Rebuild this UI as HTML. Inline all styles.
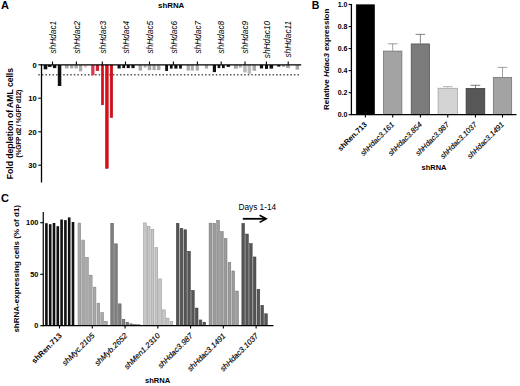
<!DOCTYPE html>
<html><head><meta charset="utf-8"><style>
html,body{margin:0;padding:0;background:#fff;width:520px;height:386px;overflow:hidden}
svg{display:block;font-family:"Liberation Sans",sans-serif}
</style></head><body>
<svg width="520" height="386" viewBox="0 0 520 386" font-family="Liberation Sans, sans-serif"><text x="1" y="9" font-size="11" font-weight="bold" font-style="normal" text-anchor="start" fill="#000">A</text>
<text x="158" y="7.6" font-size="7.9" font-weight="bold" font-style="normal" text-anchor="start" fill="#000">shRNA</text>
<text x="0" y="0" font-size="8.3" font-weight="normal" font-style="italic" text-anchor="end" fill="#000" transform="translate(55.70,20.8) rotate(-90)">shHdac1</text>
<text x="0" y="0" font-size="8.3" font-weight="normal" font-style="italic" text-anchor="end" fill="#000" transform="translate(79.60,20.8) rotate(-90)">shHdac2</text>
<text x="0" y="0" font-size="8.3" font-weight="normal" font-style="italic" text-anchor="end" fill="#000" transform="translate(105.50,20.8) rotate(-90)">shHdac3</text>
<text x="0" y="0" font-size="8.3" font-weight="normal" font-style="italic" text-anchor="end" fill="#000" transform="translate(128.70,20.8) rotate(-90)">shHdac4</text>
<text x="0" y="0" font-size="8.3" font-weight="normal" font-style="italic" text-anchor="end" fill="#000" transform="translate(152.70,20.8) rotate(-90)">shHdac5</text>
<text x="0" y="0" font-size="8.3" font-weight="normal" font-style="italic" text-anchor="end" fill="#000" transform="translate(176.60,20.8) rotate(-90)">shHdac6</text>
<text x="0" y="0" font-size="8.3" font-weight="normal" font-style="italic" text-anchor="end" fill="#000" transform="translate(200.60,20.8) rotate(-90)">shHdac7</text>
<text x="0" y="0" font-size="8.3" font-weight="normal" font-style="italic" text-anchor="end" fill="#000" transform="translate(224.40,20.8) rotate(-90)">shHdac8</text>
<text x="0" y="0" font-size="8.3" font-weight="normal" font-style="italic" text-anchor="end" fill="#000" transform="translate(248.20,20.8) rotate(-90)">shHdac9</text>
<text x="0" y="0" font-size="8.3" font-weight="normal" font-style="italic" text-anchor="end" fill="#000" transform="translate(269.60,20.8) rotate(-90)">shHdac10</text>
<text x="0" y="0" font-size="8.3" font-weight="normal" font-style="italic" text-anchor="end" fill="#000" transform="translate(291.40,20.8) rotate(-90)">shHdac11</text>
<line x1="38.3" y1="74.8" x2="299" y2="74.8" stroke="#555" stroke-width="1.4" stroke-dasharray="1.5 2.05"/>
<rect x="43.70" y="65.00" width="3.60" height="4.30" fill="#111"/>
<rect x="47.90" y="65.00" width="3.70" height="1.90" fill="#111"/>
<rect x="52.90" y="65.00" width="3.40" height="3.10" fill="#111"/>
<rect x="57.80" y="65.00" width="3.50" height="21.00" fill="#111"/>
<rect x="64.90" y="65.00" width="3.70" height="3.40" fill="#a8a8a8"/>
<rect x="70.10" y="65.00" width="3.20" height="3.40" fill="#a8a8a8"/>
<rect x="74.40" y="65.00" width="3.50" height="3.40" fill="#a8a8a8"/>
<rect x="79.00" y="65.00" width="3.20" height="6.30" fill="#a8a8a8"/>
<rect x="84.10" y="65.00" width="3.00" height="2.80" fill="#ecc4cc"/>
<rect x="91.20" y="65.00" width="3.30" height="10.30" fill="#d63a55"/>
<rect x="95.80" y="65.00" width="3.20" height="5.90" fill="#d02035"/>
<rect x="101.35" y="65.00" width="2.30" height="39.85" fill="#dc0c16" stroke="#b80c16" stroke-width="0.5"/>
<rect x="105.45" y="65.00" width="2.80" height="103.45" fill="#dc0c16" stroke="#b80c16" stroke-width="0.5"/>
<rect x="110.15" y="65.00" width="2.60" height="52.55" fill="#dc0c16" stroke="#b80c16" stroke-width="0.5"/>
<rect x="117.50" y="65.00" width="3.20" height="3.50" fill="#111"/>
<rect x="122.30" y="65.00" width="2.80" height="3.10" fill="#111"/>
<rect x="126.70" y="65.00" width="3.10" height="3.10" fill="#111"/>
<rect x="131.40" y="65.00" width="3.20" height="3.10" fill="#111"/>
<rect x="138.60" y="65.00" width="3.50" height="5.60" fill="#a8a8a8"/>
<rect x="143.70" y="65.00" width="2.80" height="2.60" fill="#a8a8a8"/>
<rect x="147.70" y="65.00" width="3.60" height="5.10" fill="#a8a8a8"/>
<rect x="152.50" y="65.00" width="3.20" height="5.10" fill="#a8a8a8"/>
<rect x="156.90" y="65.00" width="3.50" height="5.10" fill="#a8a8a8"/>
<rect x="165.20" y="65.00" width="2.80" height="6.00" fill="#111"/>
<rect x="169.90" y="65.00" width="2.80" height="3.60" fill="#111"/>
<rect x="174.30" y="65.00" width="3.20" height="3.60" fill="#111"/>
<rect x="179.10" y="65.00" width="2.80" height="3.60" fill="#111"/>
<rect x="186.60" y="65.00" width="3.20" height="5.60" fill="#a8a8a8"/>
<rect x="190.70" y="65.00" width="3.10" height="5.60" fill="#a8a8a8"/>
<rect x="195.70" y="65.00" width="3.20" height="5.60" fill="#a8a8a8"/>
<rect x="204.90" y="65.00" width="3.20" height="3.60" fill="#a8a8a8"/>
<rect x="212.80" y="65.00" width="3.20" height="7.10" fill="#111"/>
<rect x="217.60" y="65.00" width="2.70" height="3.10" fill="#111"/>
<rect x="222.00" y="65.00" width="2.70" height="3.10" fill="#111"/>
<rect x="226.70" y="65.00" width="3.20" height="1.90" fill="#111"/>
<rect x="233.90" y="65.00" width="3.90" height="3.80" fill="#a8a8a8"/>
<rect x="238.70" y="65.00" width="3.10" height="2.60" fill="#a8a8a8"/>
<rect x="243.10" y="65.00" width="3.60" height="7.40" fill="#b8b8b8"/>
<rect x="247.60" y="65.00" width="3.50" height="8.90" fill="#bbbbbb"/>
<rect x="252.50" y="65.00" width="3.60" height="5.80" fill="#a8a8a8"/>
<rect x="259.90" y="65.00" width="3.20" height="3.40" fill="#111"/>
<rect x="265.00" y="65.00" width="3.00" height="3.90" fill="#111"/>
<rect x="269.50" y="65.00" width="3.60" height="3.60" fill="#111"/>
<rect x="277.30" y="65.00" width="3.00" height="1.60" fill="#111"/>
<rect x="282.10" y="65.00" width="3.00" height="1.90" fill="#a8a8a8"/>
<rect x="286.00" y="65.00" width="4.00" height="3.10" fill="#a8a8a8"/>
<rect x="295.60" y="65.00" width="3.50" height="4.60" fill="#a8a8a8"/>
<line x1="41.5" y1="64.2" x2="41.5" y2="182.5" stroke="#000" stroke-width="1.3"/>
<line x1="40.8" y1="64.8" x2="301.2" y2="64.8" stroke="#000" stroke-width="1.2"/>
<line x1="38.3" y1="64.8" x2="41.5" y2="64.8" stroke="#000" stroke-width="1.1"/>
<text x="36.7" y="67.5" font-size="7.6" font-weight="bold" font-style="normal" text-anchor="end" fill="#000">0</text>
<line x1="38.3" y1="98.2" x2="41.5" y2="98.2" stroke="#000" stroke-width="1.1"/>
<text x="36.7" y="100.9" font-size="7.6" font-weight="bold" font-style="normal" text-anchor="end" fill="#000">10</text>
<line x1="38.3" y1="131.8" x2="41.5" y2="131.8" stroke="#000" stroke-width="1.1"/>
<text x="36.7" y="134.5" font-size="7.6" font-weight="bold" font-style="normal" text-anchor="end" fill="#000">20</text>
<line x1="38.3" y1="165.2" x2="41.5" y2="165.2" stroke="#000" stroke-width="1.1"/>
<text x="36.7" y="167.89999999999998" font-size="7.6" font-weight="bold" font-style="normal" text-anchor="end" fill="#000">30</text>
<line x1="52.5" y1="61.5" x2="52.5" y2="64.8" stroke="#000" stroke-width="1.1"/>
<line x1="76.4" y1="61.5" x2="76.4" y2="64.8" stroke="#000" stroke-width="1.1"/>
<line x1="102.3" y1="61.5" x2="102.3" y2="64.8" stroke="#000" stroke-width="1.1"/>
<line x1="125.5" y1="61.5" x2="125.5" y2="64.8" stroke="#000" stroke-width="1.1"/>
<line x1="149.5" y1="61.5" x2="149.5" y2="64.8" stroke="#000" stroke-width="1.1"/>
<line x1="173.4" y1="61.5" x2="173.4" y2="64.8" stroke="#000" stroke-width="1.1"/>
<line x1="197.4" y1="61.5" x2="197.4" y2="64.8" stroke="#000" stroke-width="1.1"/>
<line x1="221.2" y1="61.5" x2="221.2" y2="64.8" stroke="#000" stroke-width="1.1"/>
<line x1="245" y1="61.5" x2="245" y2="64.8" stroke="#000" stroke-width="1.1"/>
<line x1="266.4" y1="61.5" x2="266.4" y2="64.8" stroke="#000" stroke-width="1.1"/>
<line x1="288.2" y1="61.5" x2="288.2" y2="64.8" stroke="#000" stroke-width="1.1"/>
<text x="0" y="0" font-size="8.6" font-weight="bold" font-style="normal" text-anchor="middle" fill="#000" transform="translate(12.9,123.6) rotate(-90)">Fold depletion of AML cells</text>
<text x="0" y="0" font-size="6.8" font-weight="bold" font-style="normal" text-anchor="middle" fill="#000" transform="translate(21.1,123.8) rotate(-90)" letter-spacing="-0.3">(%GFP d2 / %GFP d12)</text>
<text x="311.7" y="9.2" font-size="10.5" font-weight="bold" font-style="normal" text-anchor="start" fill="#000">B</text>
<rect x="356.30" y="4.80" width="18.10" height="109.90" fill="#000" stroke="#000" stroke-width="0.7"/>
<rect x="383.50" y="51.08" width="18.40" height="63.62" fill="#a3a3a3" stroke="#6a6a6a" stroke-width="0.7"/>
<line x1="392.7" y1="43.8" x2="392.7" y2="50.784000000000006" stroke="#858585" stroke-width="0.8"/>
<line x1="387.9" y1="43.8" x2="397.5" y2="43.8" stroke="#858585" stroke-width="0.8"/>
<rect x="411.20" y="43.92" width="18.40" height="70.78" fill="#7b7b7b" stroke="#4a4a4a" stroke-width="0.7"/>
<line x1="420.4" y1="34.4" x2="420.4" y2="43.620999999999995" stroke="#666" stroke-width="0.8"/>
<line x1="415.59999999999997" y1="34.4" x2="425.2" y2="34.4" stroke="#666" stroke-width="0.8"/>
<rect x="438.10" y="88.22" width="19.30" height="26.48" fill="#d4d4d4" stroke="#9c9c9c" stroke-width="0.7"/>
<line x1="447.75" y1="86.6" x2="447.75" y2="87.9214" stroke="#a5a5a5" stroke-width="0.8"/>
<line x1="442.95" y1="86.6" x2="452.55" y2="86.6" stroke="#a5a5a5" stroke-width="0.8"/>
<rect x="466.10" y="88.44" width="18.70" height="26.26" fill="#575757" stroke="#333" stroke-width="0.7"/>
<line x1="475.45000000000005" y1="85.3" x2="475.45000000000005" y2="88.1418" stroke="#555" stroke-width="0.8"/>
<line x1="470.65000000000003" y1="85.3" x2="480.25000000000006" y2="85.3" stroke="#555" stroke-width="0.8"/>
<rect x="493.30" y="77.42" width="18.40" height="37.28" fill="#a3a3a3" stroke="#6a6a6a" stroke-width="0.7"/>
<line x1="502.5" y1="67.4" x2="502.5" y2="77.12180000000001" stroke="#8a8a8a" stroke-width="0.8"/>
<line x1="497.7" y1="67.4" x2="507.3" y2="67.4" stroke="#8a8a8a" stroke-width="0.8"/>
<line x1="351.4" y1="4" x2="351.4" y2="114.7" stroke="#000" stroke-width="1.3"/>
<line x1="350.8" y1="114.7" x2="516.5" y2="114.7" stroke="#000" stroke-width="1.3"/>
<line x1="348.6" y1="114.7" x2="351.4" y2="114.7" stroke="#000" stroke-width="1.1"/>
<text x="347.4" y="117.2" font-size="7" font-weight="bold" font-style="normal" text-anchor="end" fill="#000">0.0</text>
<line x1="348.6" y1="92.66" x2="351.4" y2="92.66" stroke="#000" stroke-width="1.1"/>
<text x="347.4" y="95.16" font-size="7" font-weight="bold" font-style="normal" text-anchor="end" fill="#000">0.2</text>
<line x1="348.6" y1="70.62" x2="351.4" y2="70.62" stroke="#000" stroke-width="1.1"/>
<text x="347.4" y="73.12" font-size="7" font-weight="bold" font-style="normal" text-anchor="end" fill="#000">0.4</text>
<line x1="348.6" y1="48.58" x2="351.4" y2="48.58" stroke="#000" stroke-width="1.1"/>
<text x="347.4" y="51.08" font-size="7" font-weight="bold" font-style="normal" text-anchor="end" fill="#000">0.6</text>
<line x1="348.6" y1="26.539999999999992" x2="351.4" y2="26.539999999999992" stroke="#000" stroke-width="1.1"/>
<text x="347.4" y="29.039999999999992" font-size="7" font-weight="bold" font-style="normal" text-anchor="end" fill="#000">0.8</text>
<line x1="348.6" y1="4.5" x2="351.4" y2="4.5" stroke="#000" stroke-width="1.1"/>
<text x="347.4" y="7.0" font-size="7" font-weight="bold" font-style="normal" text-anchor="end" fill="#000">1.0</text>
<line x1="365.35" y1="114.7" x2="365.35" y2="117.6" stroke="#000" stroke-width="1.1"/>
<text x="0" y="0" font-size="7.5" font-weight="bold" font-style="normal" text-anchor="end" fill="#000" transform="translate(367.35,125.0) rotate(-45)">shRen.713</text>
<line x1="392.7" y1="114.7" x2="392.7" y2="117.6" stroke="#000" stroke-width="1.1"/>
<text x="0" y="0" font-size="7.5" font-weight="normal" font-style="italic" text-anchor="end" fill="#000" transform="translate(394.70,125.0) rotate(-45)" stroke="#000" stroke-width="0.15">shHdac3.161</text>
<line x1="420.4" y1="114.7" x2="420.4" y2="117.6" stroke="#000" stroke-width="1.1"/>
<text x="0" y="0" font-size="7.5" font-weight="normal" font-style="italic" text-anchor="end" fill="#000" transform="translate(422.40,125.0) rotate(-45)" stroke="#000" stroke-width="0.15">shHdac3.854</text>
<line x1="447.75" y1="114.7" x2="447.75" y2="117.6" stroke="#000" stroke-width="1.1"/>
<text x="0" y="0" font-size="7.5" font-weight="normal" font-style="italic" text-anchor="end" fill="#000" transform="translate(449.75,125.0) rotate(-45)" stroke="#000" stroke-width="0.15">shHdac3.987</text>
<line x1="475.45000000000005" y1="114.7" x2="475.45000000000005" y2="117.6" stroke="#000" stroke-width="1.1"/>
<text x="0" y="0" font-size="7.5" font-weight="normal" font-style="italic" text-anchor="end" fill="#000" transform="translate(477.45,125.0) rotate(-45)" stroke="#000" stroke-width="0.15">shHdac3.1037</text>
<line x1="502.5" y1="114.7" x2="502.5" y2="117.6" stroke="#000" stroke-width="1.1"/>
<text x="0" y="0" font-size="7.5" font-weight="normal" font-style="italic" text-anchor="end" fill="#000" transform="translate(504.50,125.0) rotate(-45)" stroke="#000" stroke-width="0.15">shHdac3.1491</text>
<text x="421.5" y="170.3" font-size="7.5" font-weight="bold" font-style="normal" text-anchor="start" fill="#000">shRNA</text>
<text x="0" y="0" font-size="8" font-weight="bold" font-style="normal" text-anchor="middle" fill="#000" transform="translate(329.3,59.3) rotate(-90)">Relative <tspan font-style="italic">Hdac3</tspan> expression</text>
<text x="0.9" y="202.1" font-size="11" font-weight="bold" font-style="normal" text-anchor="start" fill="#000">C</text>
<rect x="45.10" y="223.20" width="2.60" height="102.50" fill="#111"/>
<rect x="48.90" y="224.20" width="2.60" height="101.50" fill="#111"/>
<rect x="52.70" y="223.00" width="2.60" height="102.70" fill="#111"/>
<rect x="56.50" y="226.20" width="2.60" height="99.50" fill="#111"/>
<rect x="60.30" y="219.50" width="2.60" height="106.20" fill="#111"/>
<rect x="64.10" y="220.10" width="2.60" height="105.60" fill="#111"/>
<rect x="67.90" y="217.40" width="2.60" height="108.30" fill="#111"/>
<rect x="71.70" y="222.00" width="2.60" height="103.70" fill="#111"/>
<rect x="78.02" y="223.05" width="2.70" height="102.65" fill="#a9a9a9" stroke="#7c7c7c" stroke-width="0.5"/>
<rect x="81.82" y="240.05" width="2.70" height="85.65" fill="#a9a9a9" stroke="#7c7c7c" stroke-width="0.5"/>
<rect x="85.62" y="257.35" width="2.70" height="68.35" fill="#a9a9a9" stroke="#7c7c7c" stroke-width="0.5"/>
<rect x="89.42" y="275.15" width="2.70" height="50.55" fill="#a9a9a9" stroke="#7c7c7c" stroke-width="0.5"/>
<rect x="93.22" y="287.15" width="2.70" height="38.55" fill="#a9a9a9" stroke="#7c7c7c" stroke-width="0.5"/>
<rect x="97.02" y="303.15" width="2.70" height="22.55" fill="#a9a9a9" stroke="#7c7c7c" stroke-width="0.5"/>
<rect x="100.82" y="312.55" width="2.70" height="13.15" fill="#a9a9a9" stroke="#7c7c7c" stroke-width="0.5"/>
<rect x="104.62" y="321.35" width="2.70" height="4.35" fill="#a9a9a9" stroke="#7c7c7c" stroke-width="0.5"/>
<rect x="110.79" y="223.25" width="2.70" height="102.45" fill="#7e7e7e" stroke="#555555" stroke-width="0.5"/>
<rect x="114.59" y="243.85" width="2.70" height="81.85" fill="#7e7e7e" stroke="#555555" stroke-width="0.5"/>
<rect x="118.39" y="303.85" width="2.70" height="21.85" fill="#7e7e7e" stroke="#555555" stroke-width="0.5"/>
<rect x="122.19" y="319.25" width="2.70" height="6.45" fill="#7e7e7e" stroke="#555555" stroke-width="0.5"/>
<rect x="125.99" y="322.25" width="2.70" height="3.45" fill="#7e7e7e" stroke="#555555" stroke-width="0.5"/>
<rect x="129.79" y="323.85" width="2.70" height="1.85" fill="#7e7e7e" stroke="#555555" stroke-width="0.5"/>
<rect x="133.59" y="324.55" width="2.70" height="1.15" fill="#7e7e7e" stroke="#555555" stroke-width="0.5"/>
<rect x="137.39" y="324.75" width="2.70" height="0.95" fill="#7e7e7e" stroke="#555555" stroke-width="0.5"/>
<rect x="143.56" y="222.95" width="2.70" height="102.75" fill="#c6c6c6" stroke="#8e8e8e" stroke-width="0.5"/>
<rect x="147.36" y="226.55" width="2.70" height="99.15" fill="#c6c6c6" stroke="#8e8e8e" stroke-width="0.5"/>
<rect x="151.16" y="229.25" width="2.70" height="96.45" fill="#c6c6c6" stroke="#8e8e8e" stroke-width="0.5"/>
<rect x="154.96" y="247.55" width="2.70" height="78.15" fill="#c6c6c6" stroke="#8e8e8e" stroke-width="0.5"/>
<rect x="158.76" y="278.95" width="2.70" height="46.75" fill="#c6c6c6" stroke="#8e8e8e" stroke-width="0.5"/>
<rect x="162.56" y="309.85" width="2.70" height="15.85" fill="#c6c6c6" stroke="#8e8e8e" stroke-width="0.5"/>
<rect x="166.36" y="318.15" width="2.70" height="7.55" fill="#c6c6c6" stroke="#8e8e8e" stroke-width="0.5"/>
<rect x="170.16" y="321.55" width="2.70" height="4.15" fill="#c6c6c6" stroke="#8e8e8e" stroke-width="0.5"/>
<rect x="176.33" y="223.25" width="2.70" height="102.45" fill="#565656" stroke="#3a3a3a" stroke-width="0.5"/>
<rect x="180.13" y="228.25" width="2.70" height="97.45" fill="#565656" stroke="#3a3a3a" stroke-width="0.5"/>
<rect x="183.93" y="229.75" width="2.70" height="95.95" fill="#565656" stroke="#3a3a3a" stroke-width="0.5"/>
<rect x="187.73" y="251.25" width="2.70" height="74.45" fill="#565656" stroke="#3a3a3a" stroke-width="0.5"/>
<rect x="191.53" y="290.35" width="2.70" height="35.35" fill="#565656" stroke="#3a3a3a" stroke-width="0.5"/>
<rect x="195.33" y="308.05" width="2.70" height="17.65" fill="#565656" stroke="#3a3a3a" stroke-width="0.5"/>
<rect x="199.13" y="319.95" width="2.70" height="5.75" fill="#565656" stroke="#3a3a3a" stroke-width="0.5"/>
<rect x="202.93" y="322.15" width="2.70" height="3.55" fill="#565656" stroke="#3a3a3a" stroke-width="0.5"/>
<rect x="209.10" y="223.15" width="2.70" height="102.55" fill="#9c9c9c" stroke="#707070" stroke-width="0.5"/>
<rect x="212.90" y="223.25" width="2.70" height="102.45" fill="#9c9c9c" stroke="#707070" stroke-width="0.5"/>
<rect x="216.70" y="220.45" width="2.70" height="105.25" fill="#9c9c9c" stroke="#707070" stroke-width="0.5"/>
<rect x="220.50" y="231.65" width="2.70" height="94.05" fill="#9c9c9c" stroke="#707070" stroke-width="0.5"/>
<rect x="224.30" y="238.45" width="2.70" height="87.25" fill="#9c9c9c" stroke="#707070" stroke-width="0.5"/>
<rect x="228.10" y="262.45" width="2.70" height="63.25" fill="#9c9c9c" stroke="#707070" stroke-width="0.5"/>
<rect x="231.90" y="270.95" width="2.70" height="54.75" fill="#9c9c9c" stroke="#707070" stroke-width="0.5"/>
<rect x="235.70" y="291.05" width="2.70" height="34.65" fill="#9c9c9c" stroke="#707070" stroke-width="0.5"/>
<rect x="241.87" y="223.35" width="2.70" height="102.35" fill="#565656" stroke="#3a3a3a" stroke-width="0.5"/>
<rect x="245.67" y="234.05" width="2.70" height="91.65" fill="#565656" stroke="#3a3a3a" stroke-width="0.5"/>
<rect x="249.47" y="243.55" width="2.70" height="82.15" fill="#565656" stroke="#3a3a3a" stroke-width="0.5"/>
<rect x="253.27" y="256.95" width="2.70" height="68.75" fill="#565656" stroke="#3a3a3a" stroke-width="0.5"/>
<rect x="257.07" y="289.25" width="2.70" height="36.45" fill="#565656" stroke="#3a3a3a" stroke-width="0.5"/>
<rect x="260.87" y="305.25" width="2.70" height="20.45" fill="#565656" stroke="#3a3a3a" stroke-width="0.5"/>
<rect x="264.67" y="313.75" width="2.70" height="11.95" fill="#565656" stroke="#3a3a3a" stroke-width="0.5"/>
<line x1="43.25" y1="212.0" x2="43.25" y2="326.3" stroke="#000" stroke-width="1.2"/>
<line x1="42.7" y1="325.7" x2="273.5" y2="325.7" stroke="#000" stroke-width="1.3"/>
<line x1="40.2" y1="325.7" x2="43.25" y2="325.7" stroke="#000" stroke-width="1.1"/>
<text x="38.4" y="328.4" font-size="7.4" font-weight="bold" font-style="normal" text-anchor="end" fill="#000">0</text>
<line x1="40.2" y1="274.3" x2="43.25" y2="274.3" stroke="#000" stroke-width="1.1"/>
<text x="38.4" y="277.0" font-size="7.4" font-weight="bold" font-style="normal" text-anchor="end" fill="#000">50</text>
<line x1="40.2" y1="222.7" x2="43.25" y2="222.7" stroke="#000" stroke-width="1.1"/>
<text x="38.4" y="225.39999999999998" font-size="7.4" font-weight="bold" font-style="normal" text-anchor="end" fill="#000">100</text>
<line x1="59.5" y1="325.7" x2="59.5" y2="328.5" stroke="#000" stroke-width="1.1"/>
<text x="0" y="0" font-size="7.8" font-weight="bold" font-style="normal" text-anchor="end" fill="#000" transform="translate(62.30,336.3) rotate(-45)">shRen.713</text>
<line x1="92.27000000000001" y1="325.7" x2="92.27000000000001" y2="328.5" stroke="#000" stroke-width="1.1"/>
<text x="0" y="0" font-size="7.8" font-weight="normal" font-style="italic" text-anchor="end" fill="#000" transform="translate(95.07,336.3) rotate(-45)" stroke="#000" stroke-width="0.15">shMyc.2105</text>
<line x1="125.04" y1="325.7" x2="125.04" y2="328.5" stroke="#000" stroke-width="1.1"/>
<text x="0" y="0" font-size="7.8" font-weight="normal" font-style="italic" text-anchor="end" fill="#000" transform="translate(127.84,336.3) rotate(-45)" stroke="#000" stroke-width="0.15">shMyb.2652</text>
<line x1="157.81" y1="325.7" x2="157.81" y2="328.5" stroke="#000" stroke-width="1.1"/>
<text x="0" y="0" font-size="7.8" font-weight="normal" font-style="italic" text-anchor="end" fill="#000" transform="translate(160.61,336.3) rotate(-45)" stroke="#000" stroke-width="0.15">shMen1.2310</text>
<line x1="190.58" y1="325.7" x2="190.58" y2="328.5" stroke="#000" stroke-width="1.1"/>
<text x="0" y="0" font-size="7.8" font-weight="normal" font-style="italic" text-anchor="end" fill="#000" transform="translate(193.38,336.3) rotate(-45)" stroke="#000" stroke-width="0.15">shHdac3.987</text>
<line x1="223.35000000000002" y1="325.7" x2="223.35000000000002" y2="328.5" stroke="#000" stroke-width="1.1"/>
<text x="0" y="0" font-size="7.8" font-weight="normal" font-style="italic" text-anchor="end" fill="#000" transform="translate(226.15,336.3) rotate(-45)" stroke="#000" stroke-width="0.15">shHdac3.1491</text>
<line x1="256.12" y1="325.7" x2="256.12" y2="328.5" stroke="#000" stroke-width="1.1"/>
<text x="0" y="0" font-size="7.8" font-weight="normal" font-style="italic" text-anchor="end" fill="#000" transform="translate(258.92,336.3) rotate(-45)" stroke="#000" stroke-width="0.15">shHdac3.1037</text>
<text x="145" y="383.1" font-size="7.6" font-weight="bold" font-style="normal" text-anchor="start" fill="#000">shRNA</text>
<text x="0" y="0" font-size="8" font-weight="bold" font-style="normal" text-anchor="middle" fill="#000" transform="translate(19.3,268.8) rotate(-90)">shRNA-expressing cells (% of d1)</text>
<text x="238.4" y="210" font-size="8.3" font-weight="normal" font-style="normal" text-anchor="start" fill="#000">Days 1-14</text>
<line x1="242.8" y1="218.8" x2="265.5" y2="218.8" stroke="#000" stroke-width="1.8"/>
<polyline points="259.6,215.2 266.2,218.8 259.6,222.4" fill="none" stroke="#000" stroke-width="1.6"/></svg>
</body></html>
